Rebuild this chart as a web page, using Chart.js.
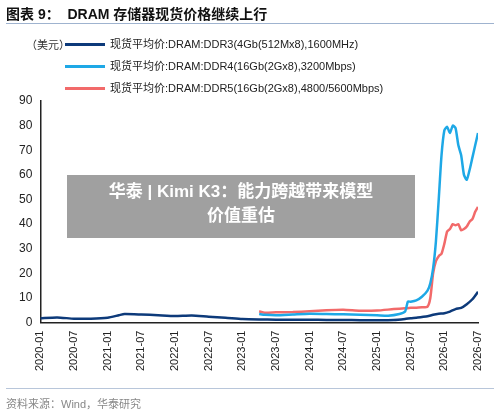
<!DOCTYPE html>
<html><head><meta charset="utf-8">
<script src="https://cdn.jsdelivr.net/npm/chart.js@4/dist/chart.umd.min.js"></script>
<style>
body{margin:0;background:#fff;font-family:"Liberation Sans","Noto Sans CJK SC",sans-serif;}
#wrap{position:relative;width:500px;height:416px;overflow:hidden}
canvas{position:absolute;left:0;top:0}
.t{position:absolute;white-space:nowrap}
</style></head><body>
<div id="wrap">
<canvas id="c" width="500" height="416"></canvas>
<div class="t" style="left:6px;top:3px;font-size:14px;font-weight:bold;color:#111">图表 9：&nbsp;&nbsp;DRAM 存储器现货价格继续上行</div>
<div style="position:absolute;left:6px;top:23px;width:488px;height:1px;background:#9fb3cf"></div>
<div class="t" style="left:26px;top:36px;font-size:11px;color:#333">（美元）</div>
<div id="leg"></div>
<div style="position:absolute;left:67px;top:175px;width:348px;height:63px;background:rgba(150,150,150,0.9)"></div>
<div class="t" style="left:67px;top:180px;width:348px;text-align:center;font-size:17px;font-weight:bold;color:#fff;line-height:24px;white-space:normal">华泰 | Kimi K3：能力跨越带来模型<br>价值重估</div>
<div style="position:absolute;left:6px;top:388px;width:488px;height:1px;background:#b8c6da"></div>
<div class="t" style="left:6px;top:395px;font-size:11px;color:#888">资料来源：Wind，华泰研究</div>
</div>
<script>
const tickLabels=["2020-01","2020-07","2021-01","2021-07","2022-01","2022-07","2023-01","2023-07","2024-01","2024-07","2025-01","2025-07","2026-01","2026-07"];
const seriesNames=["现货平均价:DRAM:DDR3(4Gb(512Mx8),1600MHz)","现货平均价:DRAM:DDR4(16Gb(2Gx8),3200Mbps)","现货平均价:DRAM:DDR5(16Gb(2Gx8),4800/5600Mbps)"];
const colors=["#0d3a7a","#1ea8e6","#f26a6a"];
// x = months since 2020-01
const ddr3X=[0,3,6,9,12,14,15,18,21,24,27,30,33,36,39,42,45,48,51,54,57,60,63,65,66,67,68,69,70,71,72,73,74,75,76,77,78];
const ddr3Y=[1.8,2.1,1.6,1.6,2.0,3.0,3.5,3.3,3.0,2.7,2.9,2.4,2.0,1.5,1.3,1.2,1.2,1.2,1.1,1.1,1.0,1.0,1.1,1.5,1.8,2.0,2.3,2.6,3.2,3.6,3.8,4.5,5.5,6.0,7.5,9.5,12.5];
const ddr4X=[39,40,42,45,48,51,54,57,60,62,64,65,65.5,66,67,68,69,69.5,70,70.5,71,71.5,72,72.5,73,73.5,74,74.5,75,75.5,76,76.5,77,77.5,78];
const ddr4Y=[3.5,3.2,3.0,3.3,3.6,3.5,3.4,3.2,3.0,2.8,3.5,4.5,8.5,8.5,9.0,10.5,13,16,22,33,50,68,78,79.5,77,80,79,72,68,60,58,62,67,72,77];
const ddr5X=[39,40,42,45,48,51,54,57,60,63,65,66,67,68,69,69.5,70,70.5,71,71.5,72,72.5,73,73.5,74,74.5,75,75.5,76,76.5,77,77.5,78];
const ddr5Y=[4.6,4.0,4.2,4.3,4.6,5.0,5.2,4.8,4.9,5.5,5.8,6.0,6.0,6.2,6.5,10,20,25,27,28,32,37,38,40,39.5,40,37.5,38,39,41,42,45,47];

const leg=document.getElementById('leg');
seriesNames.forEach((n,i)=>{
  const y=43+i*22;
  leg.innerHTML+=`<div style="position:absolute;left:65px;top:${y}px;width:40px;height:3px;background:${colors[i]}"></div>`+
  `<div class="t" style="left:110px;top:${y-8}px;font-size:11px;color:#222">${n}</div>`;
});
const pts=(xs,ys)=>xs.map((x,i)=>({x:x,y:ys[i]}));
new Chart(document.getElementById('c'),{
  type:'line',
  data:{datasets:[
    {data:pts(ddr3X,ddr3Y),borderColor:colors[0]},
    {data:pts(ddr4X,ddr4Y),borderColor:colors[1]},
    {data:pts(ddr5X,ddr5Y),borderColor:colors[2]}
  ].map(d=>Object.assign(d,{borderWidth:2.5,pointRadius:0,tension:0.2}))},
  options:{responsive:false,animation:false,
    layout:{padding:{top:101,right:22,bottom:42,left:16}},
    plugins:{legend:{display:false},tooltip:{enabled:false}},
    scales:{
      x:{type:'linear',min:0,max:78,
        afterBuildTicks:a=>{a.ticks=tickLabels.map((_,i)=>({value:i*6}));},
        ticks:{autoSkip:false,maxRotation:90,minRotation:90,color:'#222',font:{size:11,family:'Liberation Sans'},callback:v=>tickLabels[v/6]},
        grid:{display:false,drawTicks:true,tickLength:5,color:'#222'},border:{color:'#222',width:1.5}},
      y:{min:0,max:90,ticks:{stepSize:10,color:'#222',font:{size:12,family:'Liberation Sans'}},
        grid:{display:false,tickLength:5},border:{color:'#222',width:1.5}}
    }}
});
</script>
</body></html>
